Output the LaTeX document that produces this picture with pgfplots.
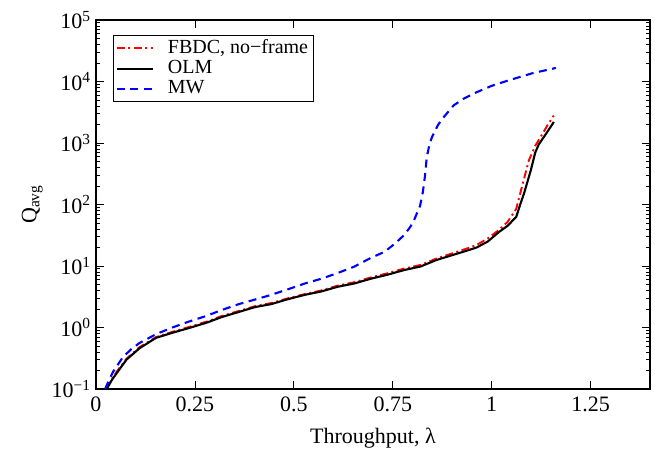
\documentclass[border=0pt]{standalone}
\usepackage{fontspec}
\setmainfont{Liberation Serif}
\usepackage{pgfplots}
\pgfplotsset{compat=1.18}
\begin{document}
\fontsize{22}{25}\selectfont
\begin{tikzpicture}
\begin{semilogyaxis}[
  scale only axis,
  width=554pt, height=369pt,
  xmin=0, xmax=1.4, ymin=0.1, ymax=1e5,
  xtick={0,0.25,0.5,0.75,1,1.25},
  xticklabels={0,0.25,0.5,0.75,1,1.25},
  ytick={0.1,1,10,100,1000,10000,100000},
  yticklabels={10\textsuperscript{−1},10\textsuperscript{0},10\textsuperscript{1},10\textsuperscript{2},10\textsuperscript{3},10\textsuperscript{4},10\textsuperscript{5}},
  tick align=inside,
  tick style={black, line width=0.8pt},
  major tick length=8pt, minor tick length=4pt,
  axis line style={line width=1.1pt},
  xlabel={Throughput, λ},
  ylabel={Q\textsubscript{avg}},
  ylabel style={yshift=-6pt},
  xlabel style={yshift=-2pt},
  yticklabel style={xshift=2pt},
  ticklabel style={font=\fontsize{22}{25}\selectfont},
  label style={font=\fontsize{22}{25}\selectfont},
  legend style={at={(0.03,0.96)}, anchor=north west, draw=black,
    font=\fontsize{20}{23}\selectfont, row sep=0pt, column sep=12pt},
  legend cell align=left,
  legend image code/.code={\draw[#1] plot coordinates {(7pt,0pt) (25pt,0pt) (43pt,0pt)};},
]
\addplot[red, line width=1.9pt, dash pattern=on 8pt off 3.5pt on 2pt off 3.5pt] coordinates {
(0.027,0.1) (0.04,0.145) (0.052,0.19) (0.077,0.31) (0.11,0.48) (0.152,0.7)
(0.193,0.85) (0.235,1.02) (0.28,1.25) (0.318,1.54) (0.361,1.86) (0.402,2.22)
(0.443,2.5) (0.486,3.0) (0.528,3.5) (0.569,4.0) (0.611,4.8) (0.653,5.45)
(0.694,6.5) (0.736,7.6) (0.779,9.1) (0.82,10.4) (0.86,13.2) (0.9,16)
(0.94,19.5) (0.962,22) (0.99,28) (1.019,39) (1.04,52) (1.062,85)
(1.075,180) (1.094,525) (1.11,900) (1.125,1300) (1.14,1900) (1.157,2800)
};
\addlegendentry{FBDC, no−frame}
\addplot[black, line width=2.1pt] coordinates {
(0.027,0.1) (0.04,0.14) (0.052,0.18) (0.077,0.30) (0.11,0.46) (0.152,0.68)
(0.193,0.82) (0.235,0.98) (0.28,1.2) (0.318,1.48) (0.361,1.79) (0.402,2.15)
(0.443,2.4) (0.486,2.9) (0.528,3.4) (0.569,3.85) (0.611,4.6) (0.653,5.2)
(0.694,6.2) (0.736,7.2) (0.779,8.6) (0.82,9.8) (0.86,12.5) (0.9,15)
(0.94,18) (0.962,20) (0.99,25) (1.019,36) (1.04,45) (1.062,63)
(1.072,100) (1.082,154) (1.099,364) (1.11,700) (1.119,950) (1.14,1500) (1.157,2200)
};
\addlegendentry{OLM}
\addplot[blue, line width=2.1pt, dash pattern=on 8pt off 5.5pt] coordinates {
(0.023,0.1) (0.033,0.14) (0.043,0.19) (0.068,0.33) (0.09,0.45) (0.11,0.56)
(0.152,0.78) (0.193,1.0) (0.235,1.25) (0.28,1.55) (0.318,1.93) (0.361,2.4)
(0.402,2.85) (0.443,3.4) (0.486,4.2) (0.528,5.2) (0.569,6.2) (0.611,7.7)
(0.653,9.8) (0.694,13.5) (0.729,17) (0.755,23) (0.779,32) (0.794,43)
(0.804,56) (0.812,75) (0.819,95) (0.826,160) (0.831,280) (0.836,600)
(0.842,900) (0.849,1250) (0.865,2000) (0.879,2650) (0.904,4100) (0.93,5300)
(0.962,6700) (1.0,8500) (1.044,10500) (1.104,13700) (1.162,16600)
};
\addlegendentry{MW}
\end{semilogyaxis}
\pgfresetboundingbox
\path ([shift={(-96pt,-63pt)}]current axis.south west) rectangle ([shift={(5pt,20pt)}]current axis.north east);
\end{tikzpicture}
\end{document}
